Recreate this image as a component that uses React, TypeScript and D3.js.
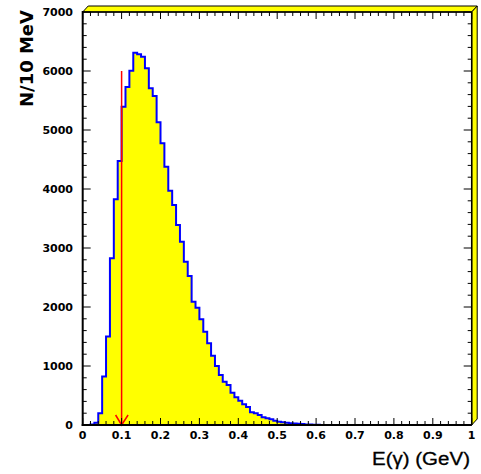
import React from "react";
import * as d3 from "d3";

const binWidth = 0.01;
const counts = [
  0, 0, 10, 40, 200, 820, 1500, 2825, 3825, 4475,
  5395, 5730, 6006, 6311, 6282, 6243, 6045, 5706, 5576, 5130,
  4774, 4378, 3971, 3729, 3390, 3107, 2768, 2525, 2090, 1988,
  1791, 1582, 1384, 1175, 1000, 847, 734, 678, 545, 470,
  412, 350, 303, 215, 198, 170, 130, 113, 96, 73,
  56, 45, 40, 28, 24, 20, 15, 10, 8, 5,
  3, 0, 0, 0, 0, 0, 0, 0, 0, 0,
  0, 0, 0, 0, 0, 0, 0, 0, 0, 0,
  0, 0, 0, 0, 0, 0, 0, 0, 0, 0,
  0, 0, 0, 0, 0, 0, 0, 0, 0, 0,
];
const xTickLabels = ["0", "0.1", "0.2", "0.3", "0.4", "0.5", "0.6", "0.7", "0.8", "0.9", "1"];
const yTickValues = [0, 1000, 2000, 3000, 4000, 5000, 6000, 7000];
const cutValue = 0.1;
const cutArrowTop = 6000;
const xTitle = "E(\u03b3) (GeV)";
const yTitle = "N/10 MeV";

export default function App() {
  const W = 481, H = 474;
  const L = 82.7, R = 471.7, T = 12, B = 425;
  const dx = 5.5, dy = 6;
  const x = d3.scaleLinear().domain([0, 1]).range([L, R]);
  const y = d3.scaleLinear().domain([0, 7000]).range([B, T]);

  const pts: [number, number][] = counts.map((c, i) => [i * binWidth, c]);
  pts.push([1, counts[counts.length - 1]]);
  const area = d3.area<[number, number]>()
    .x(d => x(d[0])).y0(B).y1(d => y(d[1])).curve(d3.curveStepAfter);
  const line = d3.line<[number, number]>()
    .x(d => x(d[0])).y(d => y(d[1])).curve(d3.curveStepAfter);

  const xMinor = d3.range(0, 51).map(i => i * 0.02);
  const yMinor = d3.range(0, 36).map(i => i * 200);
  const font = "'DejaVu Sans', sans-serif";
  const titleFont = "'Liberation Sans', Arial, sans-serif";
  const ax = x(cutValue);

  return (
    <svg width={W} height={H} style={{ position: "absolute", left: 0, top: 0, background: "#fff" }}>
      <rect x={0} y={0} width={W} height={H} fill="#fff" />
      {/* 3D frame strips */}
      <polygon points={`${L},${T} ${L + dx},${T - dy} ${R + dx},${T - dy} ${R},${T}`} fill="#ffff00" stroke="#000" strokeWidth={1} />
      <polygon points={`${R},${T} ${R + dx},${T - dy} ${R + dx},${B - dy} ${R},${B}`} fill="#ffff00" stroke="#000" strokeWidth={1} />
      {/* histogram */}
      <path d={area(pts) || ""} fill="#ffff00" />
      <path d={line(pts) || ""} fill="none" stroke="#0000ff" strokeWidth={2} />
      {/* cut arrow */}
      <line x1={ax} x2={ax} y1={y(cutArrowTop)} y2={B} stroke="#ff0000" strokeWidth={1.5} />
      <polyline points={`${ax - 6},${B - 10} ${ax},${B} ${ax + 6.5},${B - 10}`} fill="none" stroke="#ff0000" strokeWidth={1.5} />
      {/* frame */}
      <line x1={L} x2={R} y1={T} y2={T} stroke="#000" strokeWidth={1.5} />
      <line x1={R} x2={R} y1={T} y2={B} stroke="#000" strokeWidth={1.5} />
      <line x1={L} x2={L} y1={T - 1} y2={B + 1} stroke="#000" strokeWidth={2} />
      <line x1={L - 1} x2={R} y1={B} y2={B} stroke="#000" strokeWidth={2} />
      {/* x ticks */}
      {xMinor.map((v, i) => {
        const major = i % 5 === 0;
        const len = major ? 7 : 4;
        return (
          <g key={"xt" + i}>
            <line x1={x(v)} x2={x(v)} y1={B} y2={B - len} stroke="#000" strokeWidth={1} />
            <line x1={x(v)} x2={x(v)} y1={T} y2={T + len} stroke="#000" strokeWidth={1} />
          </g>
        );
      })}
      {/* y ticks */}
      {yMinor.map((v, i) => {
        const major = i % 5 === 0;
        const len = major ? 8 : 4;
        return (
          <g key={"yt" + i}>
            <line x1={L} x2={L + len} y1={y(v)} y2={y(v)} stroke="#000" strokeWidth={1} />
            <line x1={R} x2={R - len} y1={y(v)} y2={y(v)} stroke="#000" strokeWidth={1} />
          </g>
        );
      })}
      {/* tick labels */}
      {yTickValues.map(v => (
        <text key={"yl" + v} x={73} y={y(v)} dy="0.36em" textAnchor="end" fontFamily={font} fontWeight="bold" fontSize={11}>{v}</text>
      ))}
      {xTickLabels.map((t, i) => (
        <text key={"xl" + i} x={x(i * 0.1)} y={439} textAnchor="middle" fontFamily={font} fontWeight="bold" fontSize={11}>{t}</text>
      ))}
      {/* titles */}
      <text x={470} y={465} textAnchor="end" fontFamily={titleFont} fontSize={18} stroke="#000" strokeWidth={0.3} textLength={98} lengthAdjust="spacingAndGlyphs">{xTitle}</text>
      <text transform="translate(33,10) rotate(-90)" textAnchor="end" fontFamily={font} fontWeight="bold" fontSize={18} textLength={97} lengthAdjust="spacingAndGlyphs">{yTitle}</text>
    </svg>
  );
}
